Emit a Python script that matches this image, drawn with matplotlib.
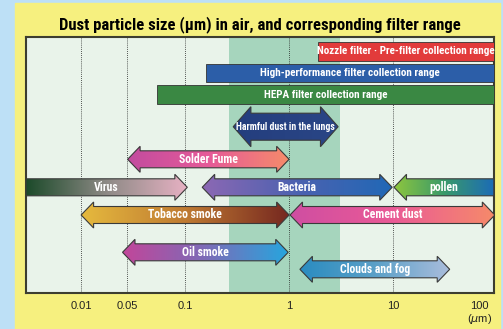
import numpy as np
import matplotlib.pyplot as plt
from matplotlib import font_manager as fm
from matplotlib.patches import Polygon, Rectangle
from matplotlib.colors import LinearSegmentedColormap

# pick a narrow sans for the labels, as the original uses one
have = set(f.name for f in fm.fontManager.ttflist)
NARROW = 'Liberation Sans'
for cand in ['Liberation Sans Narrow', 'Arial Narrow', 'Roboto Condensed',
             'Archivo Narrow', 'PT Sans Narrow', 'Fira Sans Condensed',
             'IBM Plex Sans Condensed', 'Encode Sans Condensed', 'Barlow Semi Condensed']:
    if cand in have:
        NARROW = cand
        break
plt.rcParams['font.family'] = ['Liberation Sans', 'DejaVu Sans']

# particle size axis (um); 0.05 and 100 sit where the original drew them
size_labels = ['0.01', '0.05', '0.1', '1', '10', '100']
tick_pos = [-2, -1.56, -1, 0, 1, 1.83]

# filter collection ranges (um)
filter_names = ['Nozzle filter · Pre-filter collection range',
                'High-performance filter collection range',
                'HEPA filter collection range']
filter_lo = [1.9, 0.16, 0.054]
filter_hi = [93, 93, 93]
filter_colors = ['#e23b3b', '#2c5ea8', '#3a8843']

# harmful zone in the lungs (um)
lung_lo, lung_hi = 0.29, 2.96

# particles (um)
particle_names = ['Solder Fume', 'Virus', 'Bacteria', 'pollen',
                  'Tobacco smoke', 'Cement dust', 'Oil smoke', 'Clouds and fog']
particle_lo = [0.028, 0.00295, 0.146, 10.2, 0.01, 1.02, 0.025, 1.27]
particle_hi = [1.0, 0.105, 9.8, 93, 1.0, 95, 0.98, 35]
left_head = [True, False, True, True, True, True, True, True]
right_head = [True, True, True, False, True, True, True, True]
particle_colors = [
    ['#c24c9f', '#e65a98', '#f68c6a'],
    ['#1c4a2a', '#8e8a86', '#e8b2c4'],
    ['#8c68b4', '#4c62b0', '#2168b6'],
    ['#8ec63e', '#3a9a6a', '#1c6cb6'],
    ['#e6ba3e', '#bf7a32', '#762820'],
    ['#cf4ea2', '#ea5a96', '#f68a6a'],
    ['#c2469a', '#7c6cb8', '#26a6de'],
    ['#2a8cc0', '#5ba0c8', '#aabddc'],
]
# row centres in pixels below the plot top
filter_rows = [14.3, 36.2, 57.5]
particle_rows = [122.3, 150.3, 150.3, 150.3, 178, 178, 215.3, 232.3]


def arrow(ax, x0, x1, yc, colors, hh=26, bh=17, hl=0.12, left=True, right=True):
    pts = []
    if left:
        pts += [(x0, yc), (x0 + hl, yc - hh / 2), (x0 + hl, yc - bh / 2)]
    else:
        pts += [(x0, yc - bh / 2)]
    if right:
        pts += [(x1 - hl, yc - bh / 2), (x1 - hl, yc - hh / 2), (x1, yc),
                (x1 - hl, yc + hh / 2), (x1 - hl, yc + bh / 2)]
    else:
        pts += [(x1, yc - bh / 2), (x1, yc + bh / 2)]
    if left:
        pts += [(x0 + hl, yc + bh / 2), (x0 + hl, yc + hh / 2)]
    else:
        pts += [(x0, yc + bh / 2)]
    poly = Polygon(pts, closed=True, fc='none', ec='#3a3a3a', lw=0.8, zorder=4)
    ax.add_patch(poly)
    cmap = LinearSegmentedColormap.from_list('g', colors)
    grad = np.linspace(0, 1, 256).reshape(1, -1)
    im = ax.imshow(grad, cmap=cmap, extent=(x0, x1, yc + hh / 2, yc - hh / 2),
                   aspect='auto', zorder=3, interpolation='bilinear')
    im.set_clip_path(poly)


fig = plt.figure(figsize=(5.03, 3.29), dpi=100)
fig.patch.set_facecolor('#bde0f6')
fig.add_artist(Rectangle((15 / 503, 0), 485 / 503, 326 / 329,
                         transform=fig.transFigure, color='#f6f07f', zorder=0))
fig.text(260 / 503, 1 - 25 / 329,
         'Dust particle size (μm) in air, and corresponding filter range',
         ha='center', va='center', fontsize=12, weight='bold',
         family=[NARROW, 'DejaVu Sans'])

ax = fig.add_axes([26 / 503, 36 / 329, 468 / 503, 256 / 329])
ax.set_facecolor('#e9f3ea')
ax.axvspan(np.log10(0.265), np.log10(3.1), color='#a6d5bd', zorder=0.5, lw=0)
for p in tick_pos[:5]:
    ax.axvline(p, color='#222222', ls=(0, (1, 1.5)), lw=0.6, zorder=1)

for name, lo, hi, c, y in zip(filter_names, filter_lo, filter_hi, filter_colors, filter_rows):
    x0, x1 = np.log10(lo), np.log10(hi)
    ax.add_patch(Rectangle((x0, y - 9.2), x1 - x0, 18.4, fc=c, ec='#333333',
                           lw=0.6, zorder=3))
    ax.text((x0 + x1) / 2, y, name, ha='center', va='center', color='white',
            fontsize=8, weight='bold', zorder=5, family=NARROW)

xl, xh = np.log10(lung_lo), np.log10(lung_hi)
arrow(ax, xl, xh, 89.7, ['#243e7e', '#2a4686'], hh=40, bh=27, hl=0.17)
ax.text((xl + xh) / 2, 89.7, 'Harmful dust in the lungs', ha='center', va='center',
        color='white', fontsize=7, weight='bold', zorder=5, family=NARROW)

for i, name in enumerate(particle_names):
    x0, x1 = np.log10(particle_lo[i]), np.log10(particle_hi[i])
    arrow(ax, x0, x1, particle_rows[i], particle_colors[i],
          left=left_head[i], right=right_head[i])
    ax.text((x0 + x1) / 2, particle_rows[i], name, ha='center', va='center',
            color='white', fontsize=8.5, weight='bold', zorder=5, family=NARROW)

ax.set_xlim(-2.53, 1.97)
ax.set_ylim(256, 0)
ax.set_xticks(tick_pos, size_labels)
ax.set_yticks([])
ax.tick_params(axis='x', length=0, labelsize=8, pad=6, colors='#222222')
for s in ax.spines.values():
    s.set_color('#3d3d30')
    s.set_linewidth(1.5)
ax.text(1.83, -0.1, '($\\mu$m)', transform=ax.get_xaxis_transform(),
        ha='center', va='center', fontsize=8, color='#222222')

fig.savefig('out.png', dpi=100)
